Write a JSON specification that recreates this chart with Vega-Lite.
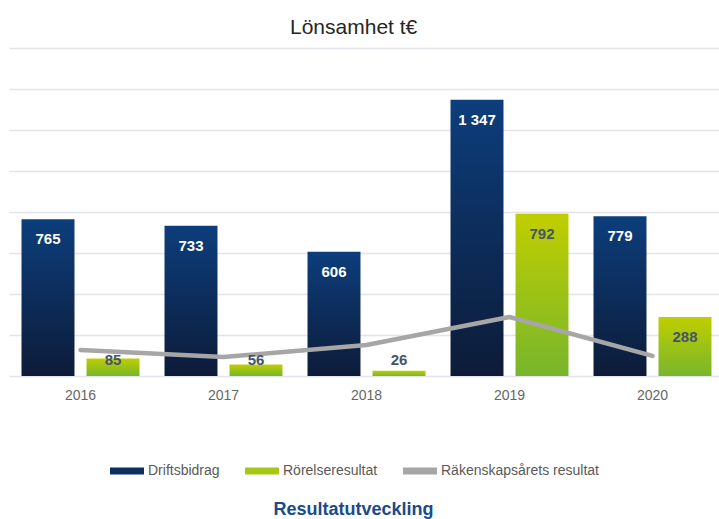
{
  "$schema": "https://vega.github.io/schema/vega-lite/v6.json",
  "width": 710,
  "height": 328,
  "autosize": {"type": "none"},
  "padding": {"left": 9, "top": 48, "right": 0, "bottom": 143},
  "background": "white",
  "config": {
    "view": {"stroke": null},
    "locale": {"number": {"decimal": ",", "thousands": " ", "grouping": [3], "currency": ["", " €"]}}
  },
  "title": {
    "text": "Lönsamhet t€",
    "font": "Liberation Sans",
    "fontSize": 21,
    "fontWeight": "normal",
    "color": "#262626",
    "anchor": "start",
    "dx": 281,
    "offset": 10
  },
  "datasets": {
    "bars": [
      {"year": "2016", "series": "Driftsbidrag", "value": 765},
      {"year": "2017", "series": "Driftsbidrag", "value": 733},
      {"year": "2018", "series": "Driftsbidrag", "value": 606},
      {"year": "2019", "series": "Driftsbidrag", "value": 1347},
      {"year": "2020", "series": "Driftsbidrag", "value": 779},
      {"year": "2016", "series": "Rörelseresultat", "value": 85},
      {"year": "2017", "series": "Rörelseresultat", "value": 56},
      {"year": "2018", "series": "Rörelseresultat", "value": 26},
      {"year": "2019", "series": "Rörelseresultat", "value": 792},
      {"year": "2020", "series": "Rörelseresultat", "value": 288}
    ],
    "line": [
      {"year": "2016", "value": 127},
      {"year": "2017", "value": 93},
      {"year": "2018", "value": 151},
      {"year": "2019", "value": 288},
      {"year": "2020", "value": 98}
    ]
  },
  "encoding": {
    "x": {
      "field": "year",
      "type": "nominal",
      "scale": {"paddingInner": 0.175, "paddingOuter": 0.0875, "range": [0, 715]},
      "axis": {
        "title": "Resultatutveckling",
        "titleFont": "Liberation Sans",
        "titleFontSize": 18,
        "titleFontWeight": "bold",
        "titleColor": "#1a4a8a",
        "titleAnchor": "start",
        "titleAlign": "center",
        "titleX": 344,
        "titleY": 138,
        "titleBaseline": "alphabetic",
        "labelAngle": 0,
        "labelFont": "Liberation Sans",
        "labelFontSize": 14,
        "labelColor": "#666666",
        "labelPadding": 12,
        "ticks": false,
        "domain": false
      }
    },
    "y": {
      "field": "value",
      "type": "quantitative",
      "scale": {"domain": [0, 1600], "nice": false},
      "axis": {
        "values": [0, 200, 400, 600, 800, 1000, 1200, 1400, 1600],
        "labels": false,
        "ticks": false,
        "domain": false,
        "title": null,
        "grid": true,
        "gridColor": "#e1e4ec",
        "gridWidth": 1.5
      }
    }
  },
  "layer": [
    {
      "data": {"name": "bars"},
      "mark": {"type": "bar", "opacity": 0},
      "encoding": {
        "xOffset": {
          "field": "series",
          "scale": {"domain": ["Driftsbidrag", "Rörelseresultat"], "paddingInner": 0.185, "paddingOuter": 0}
        },
        "color": {
          "field": "series",
          "type": "nominal",
          "scale": {
            "domain": ["Driftsbidrag", "Rörelseresultat", "Räkenskapsårets resultat"],
            "range": ["#0c2f62", "#a6c814", "#a6a6a6"]
          },
          "legend": {
            "orient": "none",
            "legendX": 101,
            "legendY": 406,
            "direction": "horizontal",
            "title": null,
            "padding": 0,
            "symbolType": "M-1,-0.2H1V0.2H-1Z",
            "symbolSize": 1156,
            "symbolStrokeWidth": 0,
            "symbolOpacity": 1,
            "labelFont": "Liberation Sans",
            "labelFontSize": 14,
            "labelColor": "#595959",
            "labelOffset": 4,
            "columnPadding": 25
          }
        }
      }
    },
    {
      "data": {"name": "bars"},
      "transform": [{"filter": "datum.series === 'Driftsbidrag'"}],
      "mark": {
        "type": "bar",
        "color": {"gradient": "linear", "x1": 0, "y1": 0, "x2": 0, "y2": 1, "stops": [{"offset": 0, "color": "#0c3e7c"}, {"offset": 1, "color": "#0d1b38"}]}
      },
      "encoding": {
        "xOffset": {"field": "series", "scale": {"domain": ["Driftsbidrag", "Rörelseresultat"], "paddingInner": 0.185, "paddingOuter": 0}}
      }
    },
    {
      "data": {"name": "bars"},
      "transform": [{"filter": "datum.series === 'Rörelseresultat'"}],
      "mark": {
        "type": "bar",
        "color": {"gradient": "linear", "x1": 0, "y1": 0, "x2": 0, "y2": 1, "stops": [{"offset": 0, "color": "#c0ce00"}, {"offset": 1, "color": "#78b62c"}]}
      },
      "encoding": {
        "xOffset": {"field": "series", "scale": {"domain": ["Driftsbidrag", "Rörelseresultat"], "paddingInner": 0.185, "paddingOuter": 0}}
      }
    },
    {
      "data": {"name": "line"},
      "mark": {"type": "line", "color": "#a6a6a6", "strokeWidth": 4.5, "strokeCap": "round", "strokeJoin": "round"},
      "encoding": {}
    },
    {
      "data": {"name": "bars"},
      "transform": [
        {"filter": "datum.series === 'Driftsbidrag'"},
        {"calculate": "max(datum.value, 176)", "as": "labelPos"}
      ],
      "mark": {"type": "text", "font": "Liberation Sans", "fontWeight": "bold", "fontSize": 15, "color": "white", "baseline": "middle", "dy": 20},
      "encoding": {
        "xOffset": {"field": "series", "scale": {"domain": ["Driftsbidrag", "Rörelseresultat"], "paddingInner": 0.185, "paddingOuter": 0}},
        "y": {"field": "labelPos", "type": "quantitative"},
        "text": {"field": "value", "type": "quantitative", "format": ",d"}
      }
    },
    {
      "data": {"name": "bars"},
      "transform": [
        {"filter": "datum.series === 'Rörelseresultat'"},
        {"calculate": "max(datum.value, 176)", "as": "labelPos"}
      ],
      "mark": {"type": "text", "font": "Liberation Sans", "fontWeight": "bold", "fontSize": 15, "color": "#44546a", "baseline": "middle", "dy": 20},
      "encoding": {
        "xOffset": {"field": "series", "scale": {"domain": ["Driftsbidrag", "Rörelseresultat"], "paddingInner": 0.185, "paddingOuter": 0}},
        "y": {"field": "labelPos", "type": "quantitative"},
        "text": {"field": "value", "type": "quantitative", "format": ",d"}
      }
    }
  ]
}
